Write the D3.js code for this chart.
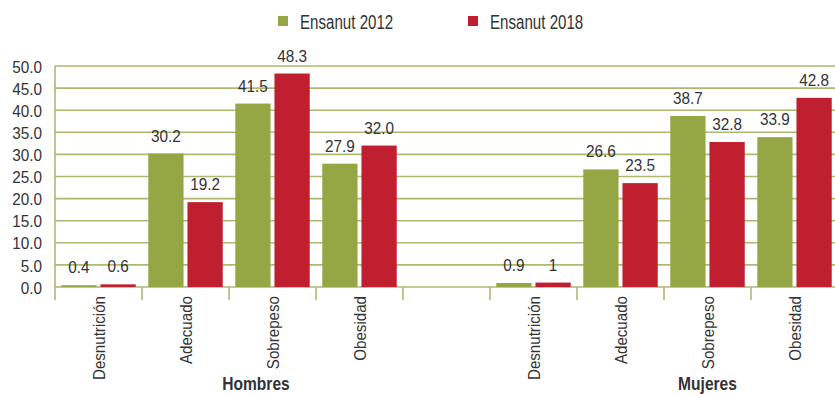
<!DOCTYPE html>
<html>
<head>
<meta charset="utf-8">
<script src="https://cdn.jsdelivr.net/npm/d3@7"></script>
<style>
  html, body { margin: 0; padding: 0; background: #fff; }
  svg { display: block; }
  text { font-family: "Liberation Sans", Arial, sans-serif; fill: #333; }
</style>
</head>
<body>
<svg id="chart" width="835" height="394"></svg>
<script>
// Categories and survey series
const categories = ["Desnutrición", "Adecuado", "Sobrepeso", "Obesidad"];
const groups = ["Hombres", "Mujeres"];
const seriesNames = ["Ensanut 2012", "Ensanut 2018"];
const hombres2012 = [0.4, 30.2, 41.5, 27.9];
const hombres2018 = [0.6, 19.2, 48.3, 32.0];
const mujeres2012 = [0.9, 26.6, 38.7, 33.9];
const mujeres2018 = [1, 23.5, 32.8, 42.8];
const valueLabelsH2012 = ["0.4", "30.2", "41.5", "27.9"];
const valueLabelsH2018 = ["0.6", "19.2", "48.3", "32.0"];
const valueLabelsM2012 = ["0.9", "26.6", "38.7", "33.9"];
const valueLabelsM2018 = ["1", "23.5", "32.8", "42.8"];
const yTicks = [0, 5, 10, 15, 20, 25, 30, 35, 40, 45, 50];

const colors = { "Ensanut 2012": "#95a744", "Ensanut 2018": "#c01f30" };
const gridColor = "#adb870";

// Condensed look: the sans face squeezed horizontally
const NARROW = 0.9;

// Slots: four categories per group with an empty slot between the groups
const slots = [];
groups.forEach((g, gi) => {
  categories.forEach(c => slots.push({ key: g + "|" + c, group: g, cat: c }));
  if (gi === 0) slots.push({ key: "gap", group: null, cat: null });
});

const rows = [];
categories.forEach((c, i) => {
  rows.push({ key: "Hombres|" + c, series: "Ensanut 2012", value: hombres2012[i], label: valueLabelsH2012[i] });
  rows.push({ key: "Hombres|" + c, series: "Ensanut 2018", value: hombres2018[i], label: valueLabelsH2018[i] });
  rows.push({ key: "Mujeres|" + c, series: "Ensanut 2012", value: mujeres2012[i], label: valueLabelsM2012[i] });
  rows.push({ key: "Mujeres|" + c, series: "Ensanut 2018", value: mujeres2018[i], label: valueLabelsM2018[i] });
});

const svg = d3.select("#chart");
const plotLeft = 55, plotRight = 838, plotTop = 66, plotBottom = 287;

const x = d3.scaleBand().domain(slots.map(s => s.key)).range([plotLeft, plotRight]).padding(0);
const xInner = d3.scaleBand().domain(seriesNames).range([0, x.bandwidth()])
  .paddingInner(0.1).paddingOuter(0.16);
const y = d3.scaleLinear().domain([0, 50]).range([plotBottom, plotTop]);

// Horizontal gridlines
svg.append("g").selectAll("line").data(yTicks).join("line")
  .attr("x1", plotLeft).attr("x2", 835)
  .attr("y1", d => y(d)).attr("y2", d => y(d))
  .attr("stroke", gridColor).attr("stroke-width", 1.6);

// Y axis
const yAxis = svg.append("g").attr("transform", `translate(${plotLeft},0)`)
  .call(d3.axisLeft(y).tickValues(yTicks).tickFormat(d3.format(".1f")).tickSize(0).tickPadding(13));
yAxis.select(".domain").attr("stroke", gridColor).attr("stroke-width", 1.6)
  .attr("d", `M0,${plotTop}V${plotBottom + 13}`);
yAxis.selectAll("text")
  .attr("x", 0).attr("dy", "0.36em")
  .attr("transform", `translate(-13,0) scale(${NARROW},1)`)
  .attr("font-size", 17).attr("fill", "#333")
  .style("font-family", '"Liberation Sans", Arial, sans-serif');

// Slot boundary ticks below the baseline
const boundaries = slots.map(s => x(s.key)).concat([plotRight]);
svg.append("g").selectAll("line").data(boundaries.slice(1)).join("line")
  .attr("x1", d => d).attr("x2", d => d)
  .attr("y1", plotBottom).attr("y2", plotBottom + 13)
  .attr("stroke", gridColor).attr("stroke-width", 1.6);

// Bars
svg.append("g").selectAll("rect").data(rows).join("rect")
  .attr("x", d => x(d.key) + xInner(d.series))
  .attr("y", d => y(d.value))
  .attr("width", xInner.bandwidth())
  .attr("height", d => y(0) - y(d.value))
  .attr("fill", d => colors[d.series]);

// Value labels
svg.append("g").selectAll("text").data(rows).join("text")
  .attr("transform", d =>
    `translate(${x(d.key) + xInner(d.series) + xInner.bandwidth() / 2},${y(d.value) - 12}) scale(${NARROW},1)`)
  .attr("text-anchor", "middle")
  .attr("font-size", 17)
  .text(d => d.label);

// Category labels, rotated
svg.append("g").selectAll("text").data(slots.filter(s => s.cat)).join("text")
  .attr("transform", d => `translate(${x(d.key) + x.bandwidth() / 2},296) rotate(-90) scale(0.89,1)`)
  .attr("text-anchor", "end")
  .attr("dy", "0.36em")
  .attr("font-size", 17)
  .text(d => d.cat);

// Group labels
const groupPos = [
  { name: "Hombres", cx: x("Hombres|Sobrepeso") + x.bandwidth() * 0.31 },
  { name: "Mujeres", cx: x("Mujeres|Sobrepeso") + x.bandwidth() * 0.5 }
];
svg.append("g").selectAll("text").data(groupPos).join("text")
  .attr("transform", d => `translate(${d.cx},390) scale(0.82,1)`)
  .attr("text-anchor", "middle")
  .attr("font-size", 19).attr("font-weight", "bold")
  .text(d => d.name);

// Legend
const legendX = [278, 468];
const legend = svg.append("g").selectAll("g").data(seriesNames).join("g")
  .attr("transform", (d, i) => `translate(${legendX[i]},16)`);
legend.append("rect").attr("width", 10).attr("height", 10).attr("fill", d => colors[d]);
legend.append("text")
  .attr("transform", "translate(22,12.5) scale(0.72,1)")
  .attr("font-size", 21).text(d => d);
</script>
</body>
</html>
